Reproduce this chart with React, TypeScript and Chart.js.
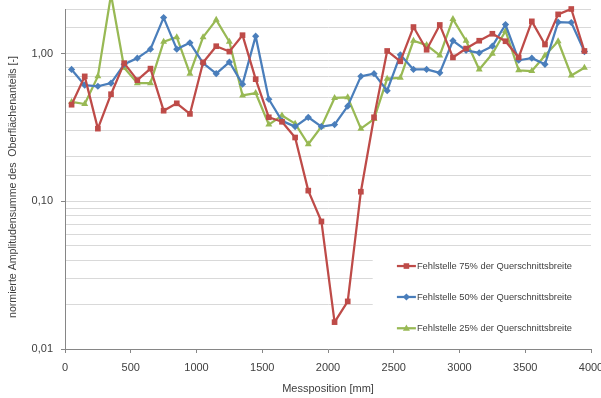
import React, { useEffect, useRef } from 'react';
import { Chart, registerables } from 'chart.js';

Chart.register(...registerables);

const positions = [50, 150, 250, 350, 450, 550, 650, 750, 850, 950, 1050, 1150, 1250, 1350, 1450, 1550, 1650, 1750, 1850, 1950, 2050, 2150, 2250, 2350, 2450, 2550, 2650, 2750, 2850, 2950, 3050, 3150, 3250, 3350, 3450, 3550, 3650, 3750, 3850, 3950];

const red75 = [0.45, 0.70, 0.31, 0.53, 0.86, 0.66, 0.79, 0.41, 0.46, 0.39, 0.87, 1.12, 1.03, 1.33, 0.67, 0.37, 0.345, 0.27, 0.118, 0.073, 0.0152, 0.021, 0.116, 0.37, 1.04, 0.885, 1.51, 1.06, 1.56, 0.94, 1.08, 1.22, 1.36, 1.21, 0.94, 1.65, 1.15, 1.84, 2.0, 1.04];

const blue50 = [0.78, 0.61, 0.60, 0.63, 0.845, 0.93, 1.07, 1.75, 1.07, 1.18, 0.86, 0.73, 0.875, 0.62, 1.31, 0.49, 0.35, 0.32, 0.37, 0.32, 0.33, 0.44, 0.70, 0.73, 0.56, 0.98, 0.78, 0.78, 0.74, 1.22, 1.05, 1.01, 1.12, 1.57, 0.90, 0.93, 0.845, 1.63, 1.62, 1.03];

const green25 = [0.47, 0.455, 0.70, 2.5, 0.80, 0.63, 0.63, 1.20, 1.29, 0.73, 1.29, 1.69, 1.20, 0.52, 0.54, 0.33, 0.38, 0.335, 0.243, 0.32, 0.50, 0.505, 0.31, 0.36, 0.675, 0.685, 1.22, 1.14, 0.97, 1.71, 1.22, 0.78, 0.995, 1.42, 0.77, 0.76, 0.97, 1.21, 0.71, 0.80];

const seriesNames = [
  'Fehlstelle 75% der Querschnittsbreite',
  'Fehlstelle 50% der Querschnittsbreite',
  'Fehlstelle 25% der Querschnittsbreite',
];
const seriesColors = ['#BE4B48', '#4A7EBB', '#98B954'];
const seriesMarkers = ['rect', 'rectRot', 'triangle'];

const xMin = 0;
const xMax = 4000;
const xStep = 500;
const yMin = 0.01;
const yMax = 2;
const yTickLabels: Record<string, string> = { '-2': '0,01', '-1': '0,10', '0': '1,00' };

const xTitle = 'Messposition [mm]';
const yTitle = 'normierte Amplitudensumme des  Oberflächenanteils [-]';

const FONT = '"Liberation Sans", Arial, sans-serif';
const TEXT = '#404040';
const AXIS = '#868686';
const GRID = '#D9D9D9';

function isMajor(v: number) {
  const l = Math.log10(v);
  return Math.abs(l - Math.round(l)) < 1e-6;
}

function drawMarker(ctx: CanvasRenderingContext2D, kind: string, x: number, y: number, color: string) {
  ctx.save();
  ctx.fillStyle = color;
  ctx.beginPath();
  if (kind === 'rect') {
    ctx.rect(x - 2.8, y - 2.8, 5.6, 5.6);
  } else if (kind === 'rectRot') {
    ctx.moveTo(x, y - 3.6);
    ctx.lineTo(x + 3.6, y);
    ctx.lineTo(x, y + 3.6);
    ctx.lineTo(x - 3.6, y);
    ctx.closePath();
  } else {
    ctx.moveTo(x, y - 3.8);
    ctx.lineTo(x + 3.5, y + 2.4);
    ctx.lineTo(x - 3.5, y + 2.4);
    ctx.closePath();
  }
  ctx.fill();
  ctx.restore();
}

const overlayPlugin = {
  id: 'overlay',
  beforeDatasetsDraw(chart: any) {
    const { ctx, chartArea } = chart;
    const x0 = chartArea.left + (chartArea.right - chartArea.left) * 0.585;
    const y0 = chartArea.top + (chartArea.bottom - chartArea.top) * 0.710;
    ctx.save();
    ctx.fillStyle = '#ffffff';
    ctx.fillRect(x0, y0, chartArea.right - x0 + 1, chartArea.bottom - y0 - 1.5);
    ctx.restore();
  },
  afterDraw(chart: any) {
    const { ctx, chartArea } = chart;
    const w = chartArea.right - chartArea.left;
    const h = chartArea.bottom - chartArea.top;
    // legend
    const lx = chartArea.left + w * 0.631;
    const rows = [0.756, 0.847, 0.939];
    ctx.save();
    ctx.font = `9.3px ${FONT}`;
    ctx.textBaseline = 'middle';
    ctx.textAlign = 'left';
    seriesNames.forEach((name, i) => {
      const y = chartArea.top + h * rows[i];
      ctx.strokeStyle = seriesColors[i];
      ctx.lineWidth = 2.25;
      ctx.beginPath();
      ctx.moveTo(lx, y);
      ctx.lineTo(lx + 19, y);
      ctx.stroke();
      drawMarker(ctx, seriesMarkers[i], lx + 9.5, y, seriesColors[i]);
      ctx.fillStyle = TEXT;
      ctx.fillText(name, lx + 20, y + 0.5);
    });
    ctx.restore();
    // axis titles
    ctx.save();
    ctx.fillStyle = TEXT;
    ctx.font = `11px ${FONT}`;
    ctx.textAlign = 'center';
    ctx.textBaseline = 'middle';
    ctx.fillText(xTitle, chartArea.left + w / 2, 389);
    ctx.translate(13, 187);
    ctx.rotate(-Math.PI / 2);
    ctx.font = `10.6px ${FONT}`;
    ctx.fillText(yTitle, 0, 0);
    ctx.restore();
  },
};

export default function App() {
  const ref = useRef<HTMLCanvasElement | null>(null);

  useEffect(() => {
    const canvas = ref.current;
    if (!canvas) return;
    const series = [red75, blue50, green25];
    const chart = new Chart(canvas, {
      type: 'line',
      data: {
        datasets: series.map((vals, i) => ({
          label: seriesNames[i],
          data: positions.map((p, j) => ({ x: p, y: vals[j] })),
          borderColor: seriesColors[i],
          backgroundColor: seriesColors[i],
          borderWidth: 2.25,
          borderJoinStyle: 'round' as const,
          pointStyle: seriesMarkers[i] as any,
          pointRadius: i === 0 ? 4 : i === 1 ? 3.6 : 4,
          pointBorderWidth: 0,
          pointBackgroundColor: seriesColors[i],
          tension: 0,
          clip: 12 as any,
        })),
      },
      options: {
        animation: false,
        responsive: false,
        devicePixelRatio: 1,
        events: [],
        layout: { padding: { top: 9, right: 10, left: 0, bottom: 0 } },
        plugins: {
          legend: { display: false },
          tooltip: { enabled: false },
          title: { display: false },
        },
        scales: {
          x: {
            type: 'linear',
            min: xMin,
            max: xMax,
            grid: {
              display: true,
              drawOnChartArea: false,
              drawTicks: true,
              tickLength: 4,
              tickColor: AXIS,
            },
            border: { display: true, color: AXIS, width: 1 },
            ticks: {
              stepSize: xStep,
              autoSkip: false,
              maxRotation: 0,
              padding: 8,
              color: TEXT,
              font: { family: FONT, size: 11 },
              callback: (v: any) => String(v),
            },
            afterFit: (s: any) => {
              s.height = 49;
              s.paddingLeft = 0;
              s.paddingRight = 0;
            },
          },
          y: {
            type: 'logarithmic',
            min: yMin,
            max: yMax,
            grid: {
              display: true,
              color: GRID,
              lineWidth: 1,
              drawTicks: true,
              tickLength: 4,
              tickColor: (c: any) => (c.tick && isMajor(c.tick.value) ? AXIS : 'rgba(0,0,0,0)'),
            },
            border: { display: true, color: AXIS, width: 1 },
            ticks: {
              autoSkip: false,
              padding: 8,
              color: TEXT,
              font: { family: FONT, size: 11 },
              callback: (v: any) => {
                const n = Number(v);
                if (!isMajor(n)) return '';
                const k = String(Math.round(Math.log10(n)));
                return yTickLabels[k] ?? '';
              },
            },
            afterFit: (s: any) => {
              s.width = 65;
              s.paddingTop = 0;
              s.paddingBottom = 0;
            },
          },
        },
      },
      plugins: [overlayPlugin],
    });
    return () => chart.destroy();
  }, []);

  return (
    <div style={{ position: 'fixed', left: 0, top: 0, width: 601, height: 398, background: '#fff' }}>
      <canvas ref={ref} width={601} height={398} style={{ display: 'block', width: 601, height: 398 }} />
    </div>
  );
}
